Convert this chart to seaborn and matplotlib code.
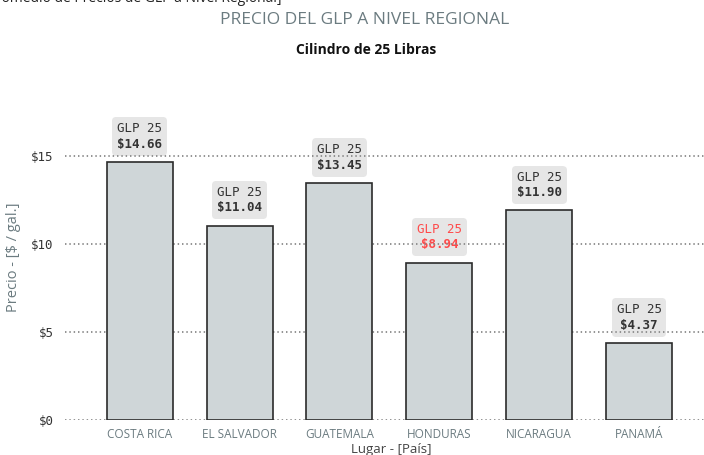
import matplotlib
matplotlib.use("Agg")
import matplotlib.pyplot as plt
from matplotlib.offsetbox import AnnotationBbox, TextArea, VPacker
import seaborn as sns

# Datos del grafico
paises = ["COSTA RICA", "EL SALVADOR", "GUATEMALA", "HONDURAS", "NICARAGUA", "PANAMÁ"]
precios = [14.66, 11.04, 13.45, 8.94, 11.90, 4.37]
etiqueta = "GLP 25"
y_ticks = [0, 5, 10, 15]

sns.set_style("white")
plt.rcParams["font.family"] = ["Open Sans", "DejaVu Sans"]

fig = plt.figure(figsize=(7.04, 4.55), dpi=100)
ax = fig.add_axes([0.092, 0.077, 0.908, 0.716])

sns.barplot(x=paises, y=precios, color="#cfd6d8", saturation=1, width=0.66,
            edgecolor="#2b2b2b", linewidth=1.2, ax=ax, zorder=3)

ax.set_xlim(-0.75, 5.65)
ax.set_ylim(0, 18.5)
ax.set_yticks(y_ticks)
ax.set_yticklabels([f"${v}" for v in y_ticks], family="DejaVu Sans Mono",
                   fontsize=9, color="#333333")
ax.tick_params(axis="x", labelsize=8.5, labelcolor="#6b7b80", length=0, pad=6)
ax.tick_params(axis="y", length=0, pad=8)

ax.yaxis.grid(True, linestyle=(0, (0.8, 1.6)), linewidth=1.3, color="#8a8a8a")
ax.set_axisbelow("line")
sns.despine(ax=ax, left=True, bottom=True)

ax.set_ylabel("Precio - [$ / gal.]", fontsize=10.5, color="#6b7b80", labelpad=7)
ax.set_xlabel("Lugar - [País]", fontsize=9.5, color="#444444")
ax.xaxis.set_label_coords(0.51, -0.072)

# Etiquetas sobre cada barra
for i, v in enumerate(precios):
    col = "#ff4a4a" if paises[i] == "HONDURAS" else "#333333"
    props = dict(family="DejaVu Sans Mono", fontsize=9, color=col)
    caja = VPacker(children=[TextArea(etiqueta, textprops=props),
                             TextArea(f"${v:.2f}", textprops=dict(props, fontweight="bold"))],
                   align="center", pad=0, sep=2)
    ab = AnnotationBbox(caja, (i, v), xybox=(0, 8), xycoords="data",
                        boxcoords="offset points", box_alignment=(0.5, 0),
                        frameon=True, pad=0.35, zorder=1,
                        bboxprops=dict(boxstyle="round,pad=0.35,rounding_size=0.3",
                                       fc="#e6e6e6", ec="none"))
    ax.add_artist(ab)

fig.text(0.518, 0.956, "PRECIO DEL GLP A NIVEL REGIONAL", ha="center", va="center",
         fontsize=12.5, color="#6b7b80")
fig.text(0.52, 0.89, "Cilindro de 25 Libras", ha="center", va="center",
         fontsize=10, fontweight="bold", color="#111111")
fig.text(-0.024, 1.004, "[Promedio de Precios de GLP a Nivel Regional]", ha="left",
         va="center", fontsize=10, color="#222222")

fig.savefig("out.png", dpi=100)
